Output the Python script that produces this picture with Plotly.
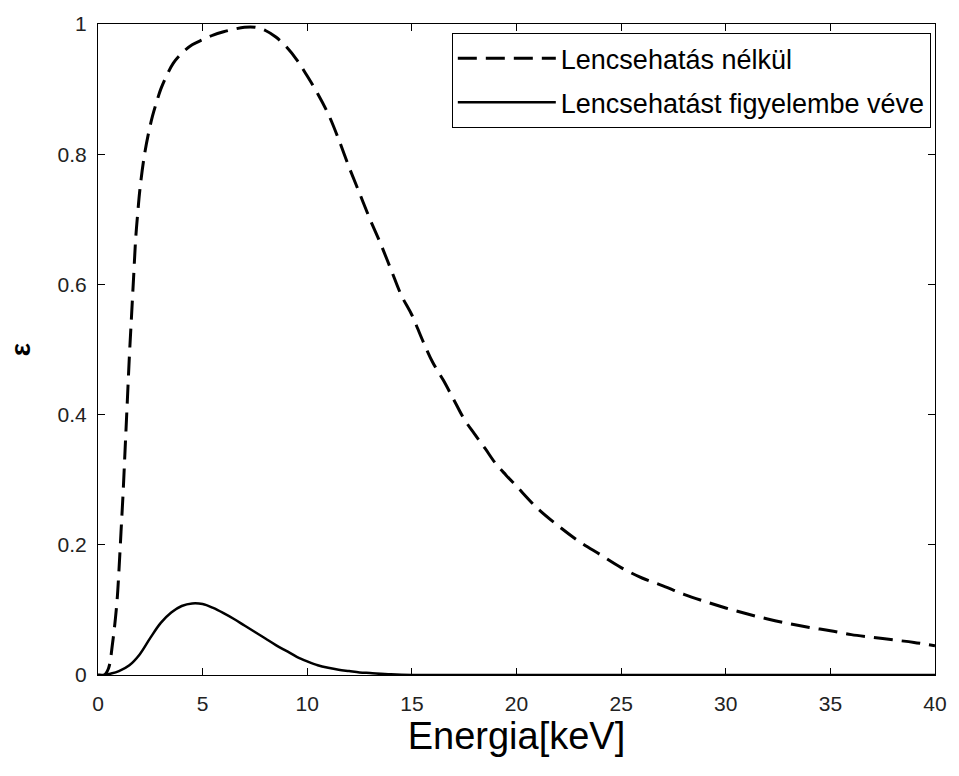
import plotly.graph_objects as go

# Energy grid [keV] and efficiency without lensing (dashed)
energy_no_lens = [0, 0.3, 0.5, 0.7, 0.9, 1.0, 1.1, 1.2, 1.3, 1.4, 1.5, 1.6, 1.7, 1.8, 1.9,
                  2.0, 2.2, 2.4, 2.6, 2.8, 3.0, 3.3, 3.6, 4.0, 4.5, 5.0, 5.5, 6.0, 6.5, 7.0,
                  7.5, 8.0, 8.5, 9.0, 9.5, 10, 10.5, 11, 11.5, 12, 12.5, 13, 13.5, 14, 14.5,
                  15, 15.5, 16, 16.5, 17, 17.5, 18, 18.5, 19, 19.5, 20, 21, 22, 23, 24, 25,
                  26, 27, 28, 29, 30, 31, 32, 33, 34, 35, 36, 37, 38, 39, 40]
eps_no_lens = [0, 0.0, 0.01, 0.05, 0.11, 0.16, 0.22, 0.28, 0.35, 0.42, 0.49, 0.55, 0.61, 0.67, 0.71,
               0.745, 0.795, 0.83, 0.858, 0.88, 0.9, 0.922, 0.94, 0.955, 0.968, 0.976, 0.983, 0.988, 0.992, 0.995,
               0.995, 0.99, 0.98, 0.965, 0.945, 0.92, 0.893, 0.862, 0.823, 0.78, 0.74, 0.70, 0.663, 0.623, 0.583,
               0.553, 0.515, 0.48, 0.453, 0.423, 0.393, 0.37, 0.348, 0.325, 0.307, 0.29, 0.256, 0.229, 0.205, 0.185, 0.165,
               0.149, 0.137, 0.124, 0.113, 0.103, 0.094, 0.086, 0.079, 0.073, 0.068, 0.062, 0.058, 0.054, 0.05, 0.045]

# Efficiency with lensing taken into account (solid)
energy_lens = [0, 0.3, 0.6, 1.0, 1.5, 2.0, 2.5, 3.0, 3.5, 4.0, 4.5, 5.0, 5.5, 6.0, 6.5, 7.0, 7.5,
               8.0, 8.5, 9.0, 9.5, 10, 10.5, 11, 11.5, 12, 12.5, 13, 14, 15, 20, 25, 30, 35, 40]
eps_lens = [0, 0, 0.002, 0.006, 0.015, 0.032, 0.057, 0.08, 0.096, 0.106, 0.11, 0.109, 0.103, 0.095, 0.086,
            0.076, 0.066, 0.056, 0.046, 0.037, 0.028, 0.021, 0.015, 0.011, 0.008, 0.006, 0.004, 0.003, 0.001,
            0, 0, 0, 0, 0, 0]

x_ticks = [0, 5, 10, 15, 20, 25, 30, 35, 40]
y_ticks = [0, 0.2, 0.4, 0.6, 0.8, 1]
y_tick_labels = ["0", "0.2", "0.4", "0.6", "0.8", "1"]

FONT = "Liberation Sans, Arial, Helvetica, sans-serif"

fig = go.Figure()
fig.add_trace(go.Scatter(x=energy_no_lens, y=eps_no_lens, mode="lines",
                         name="Lencsehatás nélkül", legendgroup="a",
                         line=dict(color="black", width=3, dash="19px,9px", shape="spline")))
fig.add_trace(go.Scatter(x=energy_lens, y=eps_lens, mode="lines",
                         name="Lencsehatást figyelembe véve", legendgroup="b",
                         line=dict(color="black", width=2.5, shape="spline")))

axis_common = dict(showgrid=False, zeroline=False, showline=True, linecolor="black", linewidth=1,
                   mirror="ticks", ticks="inside", ticklen=7, tickcolor="black",
                   tickfont=dict(family=FONT, size=21, color="#222"))

fig.update_layout(
    width=959, height=776,
    margin=dict(l=98, r=18, t=20, b=101),
    paper_bgcolor="white", plot_bgcolor="white",
    xaxis=dict(range=[0, 40], tickvals=x_ticks, ticklabelstandoff=10,
               title=dict(text="Energia[keV]", standoff=8,
                          font=dict(family=FONT, size=38, color="black")),
               **axis_common),
    yaxis=dict(range=[0, 1], tickvals=y_ticks, ticktext=y_tick_labels, ticklabelstandoff=6,
               title=dict(text="<b>ε</b>", standoff=18,
                          font=dict(family=FONT, size=28, color="black")),
               **axis_common),
    legend=dict(x=0.995, y=0.986, xanchor="right", yanchor="top",
                bgcolor="white", bordercolor="black", borderwidth=1,
                font=dict(family=FONT, size=27, color="black"),
                itemwidth=98, tracegroupgap=6),
    showlegend=True,
)

fig.write_html("out.html")
